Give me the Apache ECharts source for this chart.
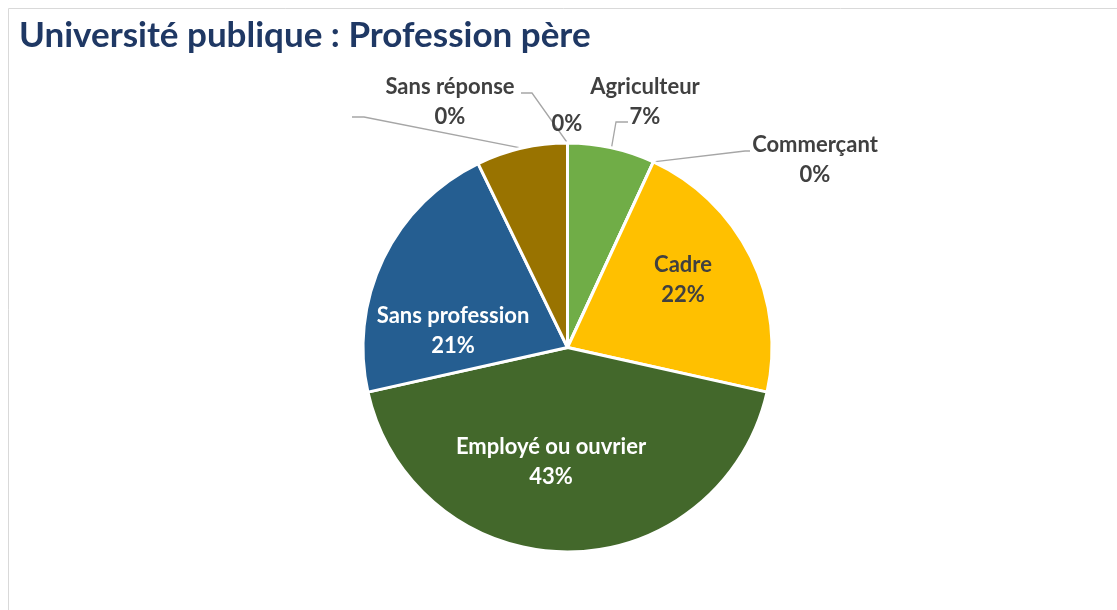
<!DOCTYPE html>
<html>
<head>
<meta charset="utf-8">
<script src="https://cdn.jsdelivr.net/npm/echarts@6/dist/echarts.min.js"></script>
<style>
  html, body { margin: 0; padding: 0; background: #fff; }
  #main { width: 1117px; height: 610px; }
</style>
</head>
<body>
<div id="main"></div>
<script>
// données du graphique (sens horaire depuis midi)
var categories = ['Agriculteur', 'Commerçant', 'Cadre', 'Employé ou ouvrier', 'Sans profession', '', 'Sans réponse', ''];
var values = [6.9, 0, 21.6, 43.0, 21.3, 7.2, 0, 0];
var colors = ['#70AD47', '#A5A5A5', '#FFC000', '#43682B', '#255E91', '#997300', '#636363', '#264478'];

// emplacement des étiquettes (centre du texte) et coudes des lignes de rappel
var labelPos = [
  { x: 645, y: 102, elbow: [[616, 122], [628, 122]] },
  { x: 815, y: 160, elbow: [[745, 151], [750, 151]] },
  { x: 683, y: 280 },
  { x: 551, y: 462 },
  { x: 453, y: 331 },
  { x: 300, y: 117, elbow: [[364, 117], [352, 117]] },
  { x: 450, y: 102, elbow: [[532, 93], [521, 93]] },
  { x: 567, y: 124 }
];
var insideIdx = [2, 3, 4];
var whiteText = [3, 4];

var myChart = echarts.init(document.getElementById('main'));

var seriesData = categories.map(function (name, i) {
  var inside = insideIdx.indexOf(i) >= 0;
  return {
    name: name,
    value: values[i],
    itemStyle: { color: colors[i] },
    label: {
      position: inside ? 'inside' : 'outside',
      color: whiteText.indexOf(i) >= 0 ? '#ffffff' : '#404040'
    },
    labelLine: { show: !inside && !!labelPos[i].elbow }
  };
});

var option = {
  animation: false,
  textStyle: { fontFamily: 'Lato' },
  title: {
    text: 'Université publique : Profession père',
    left: 14,
    top: 13,
    textStyle: { fontFamily: 'Lato', fontSize: 35, fontWeight: 'bold', color: '#1F3864' }
  },
  graphic: [{
    type: 'rect',
    shape: { x: 8.5, y: 8.5, width: 1200, height: 700 },
    style: { fill: 'none', stroke: '#d9d9d9', lineWidth: 1 },
    silent: true
  }],
  series: [{
    type: 'pie',
    center: [567.5, 347.5],
    radius: 204.5,
    startAngle: 90,
    clockwise: true,
    avoidLabelOverlap: false,
    stillShowZeroSum: true,
    itemStyle: { borderColor: '#ffffff', borderWidth: 3 },
    label: {
      show: true,
      fontFamily: 'Lato',
      fontSize: 22,
      fontWeight: 'bold',
      lineHeight: 30,
      align: 'center',
      formatter: function (p) {
        var pct = Math.round(p.percent) + '%';
        if (p.dataIndex === 5) return ' ';
        return p.name ? p.name + '\n' + pct : pct;
      }
    },
    labelLine: {
      lineStyle: { color: '#a6a6a6', width: 1.3 },
      length: 10,
      length2: 10
    },
    labelLayout: function (params) {
      var lp = labelPos[params.dataIndex];
      var res = {
        x: lp.x,
        y: lp.y,
        align: 'center',
        verticalAlign: 'middle'
      };
      if (lp.elbow && params.labelLinePoints) {
        res.labelLinePoints = [params.labelLinePoints[0], lp.elbow[0], lp.elbow[1]];
      }
      return res;
    },
    data: seriesData
  }]
};

myChart.setOption(option);
</script>
</body>
</html>
